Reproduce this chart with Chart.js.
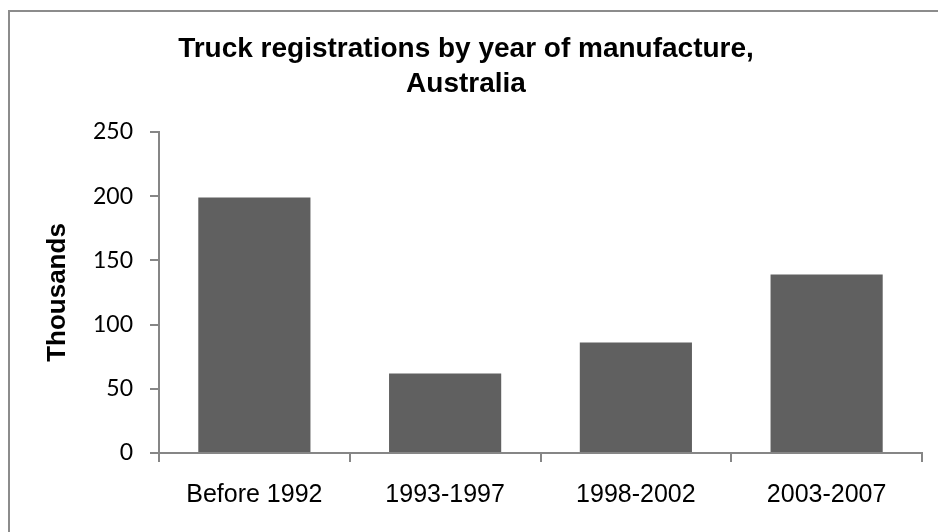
<!DOCTYPE html>
<html>
<head>
<meta charset="utf-8">
<script src="https://cdn.jsdelivr.net/npm/chart.js@4.4.1/dist/chart.umd.min.js"></script>
<style>
  html, body { margin: 0; padding: 0; background: #fff; overflow: hidden; }
  #wrap { width: 938px; height: 532px; }
</style>
</head>
<body>
<div id="wrap"><canvas id="truckChart" width="938" height="532"></canvas></div>
<script>
var categories = ['Before 1992', '1993-1997', '1998-2002', '2003-2007'];
var registrations = [199, 62, 86, 139];
var yTicks = [0, 50, 100, 150, 200, 250];

var axisGrey = '#868686';

// outer chart frame (only top and left edges fall inside the picture)
var framePlugin = {
    id: 'frame',
    beforeDraw: function (chart) {
        var ctx = chart.ctx;
        ctx.save();
        ctx.fillStyle = '#ffffff';
        ctx.fillRect(0, 0, chart.width, chart.height);
        ctx.strokeStyle = '#8c8c8c';
        ctx.lineWidth = 2;
        ctx.strokeRect(9, 11, 1200, 1200);
        ctx.restore();
    }
};

var ctx = document.getElementById('truckChart').getContext('2d');

var chart = new Chart(ctx, {
    type: 'bar',
    data: {
        labels: categories,
        datasets: [{
            label: 'Thousands',
            data: registrations,
            backgroundColor: '#606060',
            borderWidth: 0,
            barPercentage: 1,
            categoryPercentage: 0.588
        }]
    },
    plugins: [framePlugin],
    options: {
        responsive: false,
        animation: false,
        layout: {
            padding: { left: 10, top: 12, right: 16, bottom: 12 }
        },
        plugins: {
            legend: { display: false },
            tooltip: { enabled: false },
            title: {
                display: true,
                text: ['Truck registrations by year of manufacture,', 'Australia'],
                color: '#000',
                font: { family: 'Arial, "Liberation Sans", sans-serif', size: 28, weight: 'bold', lineHeight: 1.25 },
                padding: { top: 20, bottom: 30 }
            }
        },
        scales: {
            x: {
                afterFit: function (scale) { scale.height = 67; },
                grid: {
                    offset: true,
                    drawOnChartArea: false,
                    drawTicks: true,
                    tickLength: 9,
                    color: axisGrey,
                    lineWidth: 2
                },
                border: { color: axisGrey, width: 2 },
                ticks: {
                    color: '#000',
                    padding: 18,
                    maxRotation: 0,
                    font: { family: 'Arial, "Liberation Sans", sans-serif', size: 25 }
                }
            },
            y: {
                min: 0,
                max: 250,
                afterFit: function (scale) { scale.width = 149; },
                afterBuildTicks: function (scale) {
                    scale.ticks = yTicks.map(function (v) { return { value: v }; });
                },
                grid: {
                    drawOnChartArea: false,
                    drawTicks: true,
                    tickLength: 9,
                    color: axisGrey,
                    lineWidth: 2
                },
                border: { color: axisGrey, width: 2 },
                ticks: {
                    color: '#000',
                    padding: 17,
                    font: { family: 'Lato, Carlito, sans-serif', size: 23 }
                },
                title: {
                    display: true,
                    text: 'Thousands',
                    color: '#000',
                    padding: { top: 32, bottom: 0 },
                    font: { family: 'Arial, "Liberation Sans", sans-serif', size: 26, weight: 'bold', lineHeight: 1.2 }
                }
            }
        }
    }
});
</script>
</body>
</html>
